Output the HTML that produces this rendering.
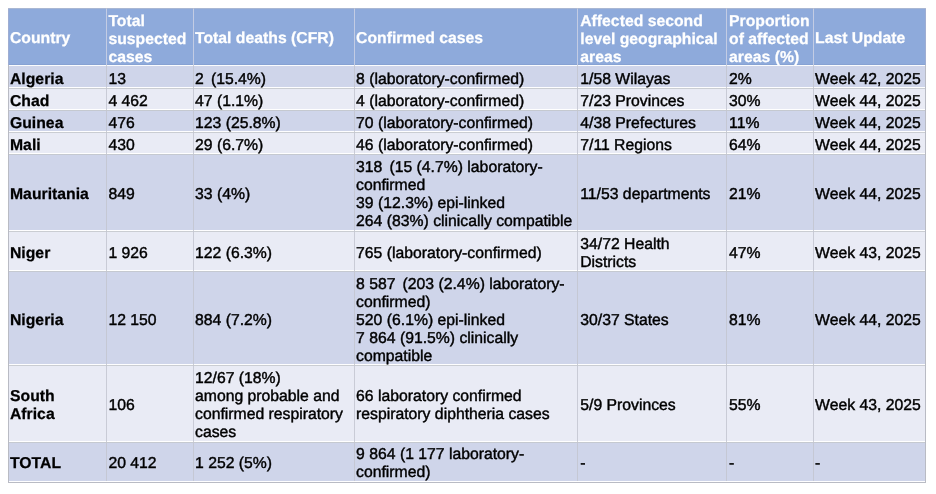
<!DOCTYPE html>
<html><head><meta charset="utf-8"><title>Diphtheria cases by country</title>
<style>
html,body{margin:0;padding:0;background:#fff;}
body{width:936px;height:494px;position:relative;overflow:hidden;font-family:"Liberation Sans",Arial,Helvetica,sans-serif;}
.c{position:absolute;font-size:15.76px;line-height:18px;color:#000;white-space:nowrap;box-sizing:border-box;}
.g{letter-spacing:2.7px}
.c{-webkit-text-stroke:0.42px #000;text-rendering:geometricPrecision}
.h{color:#fff;font-weight:bold;-webkit-text-stroke:0.25px #fff}
.b{font-weight:bold;-webkit-text-stroke:0.25px #000}
</style></head><body>
<svg width="936" height="494" viewBox="0 0 936 494" style="position:absolute;left:0;top:0">
<rect x="8" y="8" width="918" height="58" fill="#8eaadb"/>
<rect x="8" y="66" width="918" height="22" fill="#cfd5ea"/>
<rect x="8" y="88" width="918" height="22" fill="#e9ebf5"/>
<rect x="8" y="110" width="918" height="22" fill="#cfd5ea"/>
<rect x="8" y="132" width="918" height="22" fill="#e9ebf5"/>
<rect x="8" y="154" width="918" height="77" fill="#cfd5ea"/>
<rect x="8" y="231" width="918" height="40" fill="#e9ebf5"/>
<rect x="8" y="271" width="918" height="94" fill="#cfd5ea"/>
<rect x="8" y="365" width="918" height="77" fill="#e9ebf5"/>
<rect x="8" y="442" width="918" height="40" fill="#cfd5ea"/>
<rect x="8" y="65" width="918" height="1" fill="#fff" fill-opacity="0.97"/>
<rect x="8" y="64" width="918" height="1" fill="#5a6a9a" fill-opacity="0.12"/>
<rect x="8" y="87" width="918" height="1" fill="#fff" fill-opacity="0.97"/>
<rect x="8" y="88" width="918" height="1" fill="#c2c5c9" fill-opacity="0.8"/>
<rect x="8" y="109" width="918" height="1" fill="#fff" fill-opacity="0.97"/>
<rect x="8" y="110" width="918" height="1" fill="#c2c5c9" fill-opacity="0.8"/>
<rect x="8" y="131" width="918" height="1" fill="#fff" fill-opacity="0.97"/>
<rect x="8" y="132" width="918" height="1" fill="#c2c5c9" fill-opacity="0.8"/>
<rect x="8" y="153" width="918" height="1" fill="#fff" fill-opacity="0.97"/>
<rect x="8" y="154" width="918" height="1" fill="#c2c5c9" fill-opacity="0.8"/>
<rect x="8" y="230" width="918" height="1" fill="#fff" fill-opacity="0.97"/>
<rect x="8" y="231" width="918" height="1" fill="#c2c5c9" fill-opacity="0.8"/>
<rect x="8" y="270" width="918" height="1" fill="#fff" fill-opacity="0.97"/>
<rect x="8" y="271" width="918" height="1" fill="#c2c5c9" fill-opacity="0.8"/>
<rect x="8" y="364" width="918" height="1" fill="#fff" fill-opacity="0.97"/>
<rect x="8" y="365" width="918" height="1" fill="#c2c5c9" fill-opacity="0.8"/>
<rect x="8" y="441" width="918" height="1" fill="#fff" fill-opacity="0.97"/>
<rect x="8" y="442" width="918" height="1" fill="#c2c5c9" fill-opacity="0.8"/>
<rect x="8" y="8" width="1" height="475" fill="#b9bbc4" fill-opacity="1"/>
<rect x="106" y="8" width="1" height="475" fill="#c3c6d0" fill-opacity="0.85"/>
<rect x="193" y="8" width="1" height="475" fill="#c3c6d0" fill-opacity="0.85"/>
<rect x="354" y="8" width="1" height="475" fill="#c3c6d0" fill-opacity="0.85"/>
<rect x="577" y="8" width="1" height="475" fill="#c3c6d0" fill-opacity="0.85"/>
<rect x="726" y="8" width="1" height="475" fill="#c3c6d0" fill-opacity="0.85"/>
<rect x="813" y="8" width="1" height="475" fill="#c3c6d0" fill-opacity="0.85"/>
<rect x="925" y="8" width="1" height="475" fill="#b9bbc4" fill-opacity="1"/>
<rect x="106" y="9" width="1" height="56" fill="#c4cde6" fill-opacity="0.9"/>
<rect x="193" y="9" width="1" height="56" fill="#c4cde6" fill-opacity="0.9"/>
<rect x="354" y="9" width="1" height="56" fill="#c4cde6" fill-opacity="0.9"/>
<rect x="577" y="9" width="1" height="56" fill="#c4cde6" fill-opacity="0.9"/>
<rect x="726" y="9" width="1" height="56" fill="#c4cde6" fill-opacity="0.9"/>
<rect x="813" y="9" width="1" height="56" fill="#c4cde6" fill-opacity="0.9"/>
<rect x="8" y="8" width="1" height="57" fill="#9fadd2"/>
<rect x="925" y="8" width="1" height="57" fill="#9fadd2"/>
<rect x="9" y="481" width="916" height="1" fill="#fff" fill-opacity="0.97"/>
<rect x="8" y="482" width="918" height="1" fill="#b9bbc4"/>
<rect x="8" y="8" width="918" height="1" fill="#c4c4cc" fill-opacity="0.5"/>
</svg>
<div class="c h" style="left:10.00px;top:30px">Country</div>
<div class="c h" style="left:108.40px;top:13px">Total<br>suspected<br>cases</div>
<div class="c h" style="left:195.05px;top:30px">Total deaths (CFR)</div>
<div class="c h" style="left:356.10px;top:30px">Confirmed cases</div>
<div class="c h" style="left:580.25px;top:13px">Affected second<br>level geographical<br>areas</div>
<div class="c h" style="left:729.10px;top:13px">Proportion<br>of affected<br>areas (%)</div>
<div class="c h" style="left:815.10px;top:30px">Last Update</div>
<div class="c b" style="left:10.00px;top:71px">Algeria</div>
<div class="c" style="left:108.40px;top:71px">13</div>
<div class="c" style="left:195.05px;top:71px">2<span class="g"> </span>(15.4%)</div>
<div class="c" style="left:356.10px;top:71px">8 (laboratory-confirmed)</div>
<div class="c" style="left:580.25px;top:71px">1/58 Wilayas</div>
<div class="c" style="left:729.10px;top:71px">2%</div>
<div class="c" style="left:815.10px;top:71px">Week 42, 2025</div>
<div class="c b" style="left:10.00px;top:93px">Chad</div>
<div class="c" style="left:108.40px;top:93px">4 462</div>
<div class="c" style="left:195.05px;top:93px">47 (1.1%)</div>
<div class="c" style="left:356.10px;top:93px">4 (laboratory-confirmed)</div>
<div class="c" style="left:580.25px;top:93px">7/23 Provinces</div>
<div class="c" style="left:729.10px;top:93px">30%</div>
<div class="c" style="left:815.10px;top:93px">Week 44, 2025</div>
<div class="c b" style="left:10.00px;top:115px">Guinea</div>
<div class="c" style="left:108.40px;top:115px">476</div>
<div class="c" style="left:195.05px;top:115px">123 (25.8%)</div>
<div class="c" style="left:356.10px;top:115px">70 (laboratory-confirmed)</div>
<div class="c" style="left:580.25px;top:115px">4/38 Prefectures</div>
<div class="c" style="left:729.10px;top:115px">11%</div>
<div class="c" style="left:815.10px;top:115px">Week 44, 2025</div>
<div class="c b" style="left:10.00px;top:137px">Mali</div>
<div class="c" style="left:108.40px;top:137px">430</div>
<div class="c" style="left:195.05px;top:137px">29 (6.7%)</div>
<div class="c" style="left:356.10px;top:137px">46 (laboratory-confirmed)</div>
<div class="c" style="left:580.25px;top:137px">7/11 Regions</div>
<div class="c" style="left:729.10px;top:137px">64%</div>
<div class="c" style="left:815.10px;top:137px">Week 44, 2025</div>
<div class="c b" style="left:10.00px;top:186px">Mauritania</div>
<div class="c" style="left:108.40px;top:186px">849</div>
<div class="c" style="left:195.05px;top:186px">33 (4%)</div>
<div class="c" style="left:356.10px;top:159px">318<span class="g"> </span>(15 (4.7%) laboratory-<br>confirmed<br>39 (12.3%) epi-linked<br>264 (83%) clinically compatible</div>
<div class="c" style="left:580.25px;top:186px">11/53 departments</div>
<div class="c" style="left:729.10px;top:186px">21%</div>
<div class="c" style="left:815.10px;top:186px">Week 44, 2025</div>
<div class="c b" style="left:10.00px;top:245px">Niger</div>
<div class="c" style="left:108.40px;top:245px">1 926</div>
<div class="c" style="left:195.05px;top:245px">122 (6.3%)</div>
<div class="c" style="left:356.10px;top:245px">765 (laboratory-confirmed)</div>
<div class="c" style="left:580.25px;top:236px">34/72 Health<br>Districts</div>
<div class="c" style="left:729.10px;top:245px">47%</div>
<div class="c" style="left:815.10px;top:245px">Week 43, 2025</div>
<div class="c b" style="left:10.00px;top:312px">Nigeria</div>
<div class="c" style="left:108.40px;top:312px">12 150</div>
<div class="c" style="left:195.05px;top:312px">884 (7.2%)</div>
<div class="c" style="left:356.10px;top:276px">8 587<span class="g"> </span>(203 (2.4%) laboratory-<br>confirmed)<br>520 (6.1%) epi-linked<br>7 864 (91.5%) clinically<br>compatible</div>
<div class="c" style="left:580.25px;top:312px">30/37 States</div>
<div class="c" style="left:729.10px;top:312px">81%</div>
<div class="c" style="left:815.10px;top:312px">Week 44, 2025</div>
<div class="c b" style="left:10.00px;top:388px">South<br>Africa</div>
<div class="c" style="left:108.40px;top:397px">106</div>
<div class="c" style="left:195.05px;top:370px">12/67 (18%)<br>among probable and<br>confirmed respiratory<br>cases</div>
<div class="c" style="left:356.10px;top:388px">66 laboratory confirmed<br>respiratory diphtheria cases</div>
<div class="c" style="left:580.25px;top:397px">5/9 Provinces</div>
<div class="c" style="left:729.10px;top:397px">55%</div>
<div class="c" style="left:815.10px;top:397px">Week 43, 2025</div>
<div class="c b" style="left:10.00px;top:455px">TOTAL</div>
<div class="c" style="left:108.40px;top:455px">20 412</div>
<div class="c" style="left:195.05px;top:455px">1 252 (5%)</div>
<div class="c" style="left:356.10px;top:446px">9 864 (1 177 laboratory-<br>confirmed)</div>
<div class="c" style="left:580.25px;top:455px">-</div>
<div class="c" style="left:729.10px;top:455px">-</div>
<div class="c" style="left:815.10px;top:455px">-</div>
</body></html>
